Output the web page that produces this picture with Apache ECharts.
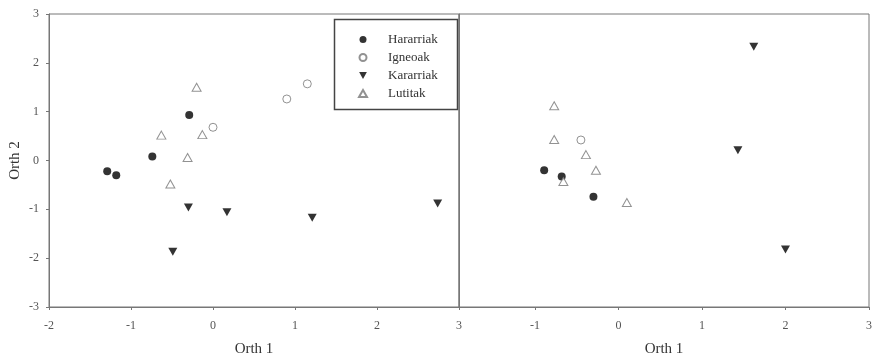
<!DOCTYPE html>
<html>
<head>
<meta charset="utf-8">
<script src="https://cdn.jsdelivr.net/npm/echarts@6/dist/echarts.min.js"></script>
<style>
  html, body { margin: 0; padding: 0; background: #fff; }
</style>
</head>
<body>
<div id="chart" style="width:875px; height:360px"></div>
<script>
// group names
var groups = ['Hararriak', 'Igneoak', 'Kararriak', 'Lutitak']
// left panel points [orth1, orth2]
var leftHararriak = [[-1.29, -0.22], [-1.18, -0.30], [-0.74, 0.08], [-0.29, 0.93]]
var leftIgneoak = [[0.00, 0.68], [0.90, 1.26], [1.15, 1.57]]
var leftKararriak = [[-0.30, -0.96], [-0.49, -1.87], [0.17, -1.06], [1.21, -1.17], [2.74, -0.88]]
var leftLutitak = [[-0.20, 1.50], [-0.63, 0.52], [-0.13, 0.53], [-0.31, 0.06], [-0.52, -0.48]]
// right panel points
var rightHararriak = [[-0.89, -0.20], [-0.68, -0.33], [-0.30, -0.74]]
var rightIgneoak = [[-0.45, 0.42]]
var rightKararriak = [[1.62, 2.33], [1.43, 0.21], [2.00, -1.82]]
var rightLutitak = [[-0.77, 1.12], [-0.77, 0.43], [-0.39, 0.12], [-0.27, -0.20], [-0.66, -0.43], [0.10, -0.86]]
// ticks
var rightXTicks = [-1, 0, 1, 2, 3]

var font = 'Liberation Serif'
var frame = '#777'

var styles = {
  Hararriak: { symbol: 'circle', symbolSize: 8, itemStyle: { color: '#000' } },
  Igneoak: { symbol: 'circle', symbolSize: 8, itemStyle: { color: '#fff', borderColor: '#777', borderWidth: 1 } },
  Kararriak: { symbol: 'path://M0,0L10,0L5,9Z', symbolSize: [9, 8], itemStyle: { color: '#000' } },
  Lutitak: { symbol: 'triangle', symbolSize: [9, 8], itemStyle: { color: '#fff', borderColor: '#777', borderWidth: 1 } }
}

function makeSeries (name, data, idx) {
  var s = styles[name]
  return {
    name: name,
    type: 'scatter',
    xAxisIndex: idx,
    yAxisIndex: idx,
    symbol: s.symbol,
    symbolSize: s.symbolSize,
    itemStyle: s.itemStyle,
    data: data
  }
}

function xAxisBase (min, max) {
  return {
    type: 'value',
    min: min,
    max: max,
    interval: 1,
    name: 'Orth 1',
    nameLocation: 'center',
    nameGap: 35,
    nameTextStyle: { fontFamily: font, fontSize: 15, color: '#333' },
    axisLine: { show: true, onZero: false, lineStyle: { color: frame } },
    axisTick: { show: true, length: 3, lineStyle: { color: frame } },
    axisLabel: { fontFamily: font, fontSize: 12, color: '#555', margin: 13 },
    splitLine: { show: false }
  }
}

var rightX = xAxisBase(-1.91, 3)
rightX.axisLabel.customValues = rightXTicks
rightX.axisTick.customValues = rightXTicks

var myChart = echarts.init(document.getElementById('chart'))
var option = {
  animation: false,
  backgroundColor: '#fff',
  grid: [
    { left: 49, top: 14, width: 410, height: 293, outerBoundsMode: 'none', containLabel: false, show: true, borderColor: frame, borderWidth: 1 },
    { left: 459, top: 14, width: 410, height: 293, outerBoundsMode: 'none', containLabel: false, show: true, borderColor: frame, borderWidth: 1 }
  ],
  legend: {
    orient: 'vertical',
    left: 358,
    top: 33,
    padding: 0,
    itemWidth: 8,
    itemHeight: 7,
    itemGap: 5,
    data: groups,
    textStyle: { fontFamily: font, fontSize: 13, color: '#333', lineHeight: 12.7, padding: [0, 0, 0, 16] }
  },
  graphic: [
    {
      type: 'rect',
      shape: { x: 334.5, y: 19.5, width: 123, height: 90 },
      style: { fill: 'none', stroke: '#444', lineWidth: 1.5 },
      z: 100
    }
  ],
  xAxis: [
    Object.assign(xAxisBase(-2, 3), { gridIndex: 0 }),
    Object.assign(rightX, { gridIndex: 1 })
  ],
  yAxis: [
    {
      gridIndex: 0,
      type: 'value',
      min: -3,
      max: 3,
      interval: 1,
      name: 'Orth 2',
      nameLocation: 'center',
      nameGap: 26,
      nameTextStyle: { fontFamily: font, fontSize: 15, color: '#333' },
      axisLine: { show: true, onZero: false, lineStyle: { color: frame } },
      axisTick: { show: true, length: 3, lineStyle: { color: frame } },
      axisLabel: { fontFamily: font, fontSize: 12, color: '#555', margin: 10 },
      splitLine: { show: false }
    },
    {
      gridIndex: 1,
      type: 'value',
      min: -3,
      max: 3,
      interval: 1,
      axisLine: { show: true, onZero: false, lineStyle: { color: frame } },
      axisTick: { show: false },
      axisLabel: { show: false },
      splitLine: { show: false }
    }
  ],
  series: [
    makeSeries('Hararriak', leftHararriak, 0),
    makeSeries('Igneoak', leftIgneoak, 0),
    makeSeries('Kararriak', leftKararriak, 0),
    makeSeries('Lutitak', leftLutitak, 0),
    makeSeries('Hararriak', rightHararriak, 1),
    makeSeries('Igneoak', rightIgneoak, 1),
    makeSeries('Kararriak', rightKararriak, 1),
    makeSeries('Lutitak', rightLutitak, 1)
  ]
}
myChart.setOption(option)
</script>
</body>
</html>
